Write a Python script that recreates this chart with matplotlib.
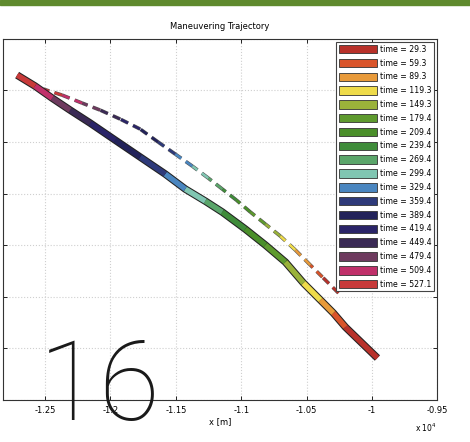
import numpy as np
import matplotlib.pyplot as plt
import matplotlib.patheffects as pe
from matplotlib.patches import Patch, Rectangle

# segment end times [s]
times = [29.3, 59.3, 89.3, 119.3, 149.3, 179.4, 209.4, 239.4, 269.4, 299.4,
         329.4, 359.4, 389.4, 419.4, 449.4, 479.4, 509.4, 527.1]
seg_colors = ['#b8312a', '#d9542a', '#e89a3a', '#eedb4a', '#9ab23a', '#5e9a2e',
              '#4a8f2a', '#3f8c3a', '#5aa56a', '#80c6b2', '#4a86c0', '#2e3a7a',
              '#22225a', '#2a2468', '#3a2a55', '#6e3a5e', '#c0306a', '#c83a3a']

# maneuvering trajectory, positions at t=0 and at each segment end time
traj_x = [-9958, -10203, -10295, -10394, -10524, -10662, -10815, -10969, -11145, -11275,
          -11428, -11581, -11773, -11964, -12155, -12309, -12446, -12577, -12714]
traj_y = [407, 707, 843, 969, 1134, 1337, 1502, 1657, 1822, 1928,
          2045, 2190, 2355, 2519, 2684, 2810, 2926, 3043, 3149]

# reference trajectory (dashed)
ref_x = [-10256, -10379, -10471, -10586, -10701, -10815, -10930, -11037, -11145, -11252,
         -11374, -11505, -11635, -11773, -11926, -12079, -12217, -12370, -12515]
ref_y = [1037, 1192, 1308, 1454, 1589, 1705, 1822, 1938, 2045, 2151,
         2267, 2384, 2500, 2626, 2723, 2810, 2878, 2955, 3014]

xticks = [-12500, -12000, -11500, -11000, -10500, -10000, -9500]
xtick_labels = ['-1.25', '-1.2', '-1.15', '-1.1', '-1.05', '-1', '-0.95']

fig = plt.figure(figsize=(4.7, 4.42), dpi=100)
fig.patches.append(Rectangle((0, 0.988), 1, 0.012, transform=fig.transFigure,
                             color='#5f8a2e', zorder=0))
ax = fig.add_axes([0.0064, 0.095, 0.924, 0.817])

# dashed reference path
for i in range(len(times)):
    ax.plot(ref_x[i:i+2], ref_y[i:i+2], color=seg_colors[i], lw=1.8,
            dashes=(3.2, 2.2), solid_capstyle='butt', zorder=3,
            path_effects=[pe.Stroke(linewidth=2.6, foreground='#555555'), pe.Normal()])

# thick trajectory band: dark outline first, then coloured segments
ax.plot(traj_x, traj_y, color='#222222', lw=5.4, solid_capstyle='butt', zorder=4)
for i in range(len(times)):
    ax.plot(traj_x[i:i+2], traj_y[i:i+2], color=seg_colors[i], lw=3.9,
            solid_capstyle='butt', zorder=5)

ax.set_xlim(-12822, -9500)
ax.set_ylim(0, 3500)
ax.set_xticks(xticks)
ax.set_xticklabels(xtick_labels, fontsize=6)
ax.set_yticks(np.arange(0, 3501, 500))
ax.set_yticklabels([])
ax.tick_params(direction='in', length=3, width=0.6, top=True, right=True, pad=4)
ax.grid(True, color='#cfcfcf', lw=0.8, ls=':')
for s in ax.spines.values():
    s.set_linewidth(0.8)
    s.set_color('#333333')
ax.set_xlabel('x [m]', fontsize=6, labelpad=2)
ax.set_title('Maneuvering Trajectory', fontsize=6, pad=7)
ax.text(1.0, -0.06, 'x 10$^4$', transform=ax.transAxes, fontsize=5.5, ha='right', va='top')

handles = [Patch(facecolor=c, edgecolor='#333333', lw=0.6) for c in seg_colors]
labels = ['time = %.1f' % t for t in times]
leg = ax.legend(handles, labels, loc='upper right', fontsize=5.6, handlelength=4.9,
                handleheight=1.3, labelspacing=0.62, handletextpad=0.4,
                borderaxespad=0.4, borderpad=0.35, fancybox=False, framealpha=1)
leg.get_frame().set_edgecolor('#444444')
leg.get_frame().set_linewidth(0.8)
leg.set_zorder(10)

# page number from the magazine page
fig.text(0.083, 0.05, '16', fontsize=80, family=['Roboto', 'DejaVu Sans'],
         fontweight=200, color='#1a1a1a', va='baseline', zorder=20)

fig.savefig('out.png', dpi=100)
